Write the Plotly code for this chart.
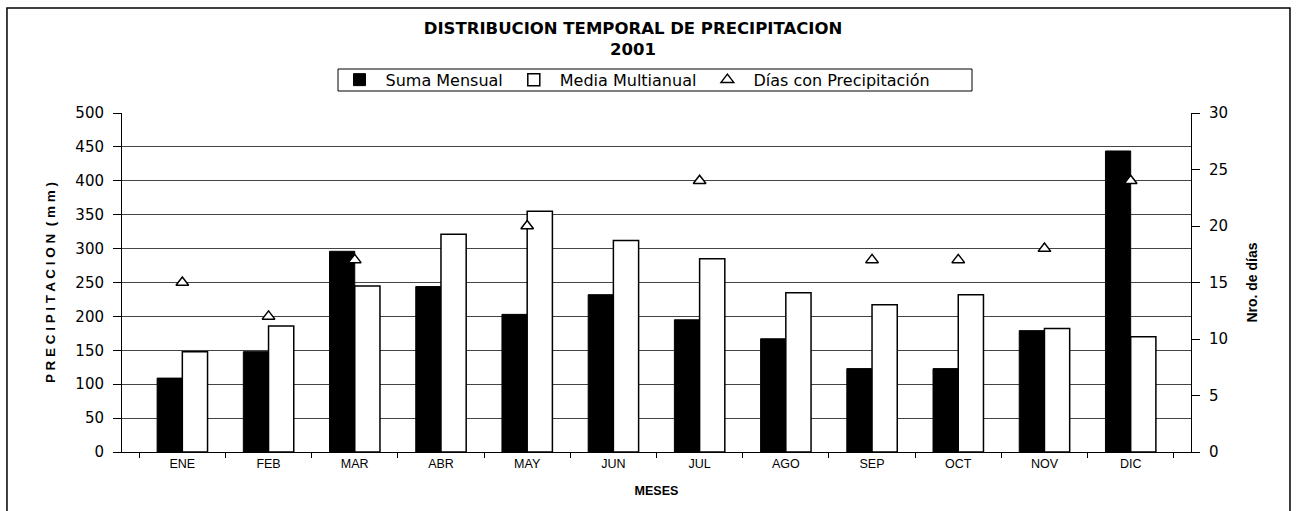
import plotly.graph_objects as go

meses = ["ENE", "FEB", "MAR", "ABR", "MAY", "JUN", "JUL", "AGO", "SEP", "OCT", "NOV", "DIC"]
suma_mensual = [109, 148, 296, 244, 203, 232, 195, 167, 123, 123, 179, 444]
media_multianual = [148, 186, 245, 321, 355, 312, 285, 235, 217, 232, 182, 170]
dias_precip = [15, 12, 17, None, 20, None, 24, None, 17, 17, 18, 24]

FONT = "Liberation Sans, Arial, sans-serif"
WIDE = "DejaVu Sans, Verdana, sans-serif"

fig = go.Figure()
fig.add_trace(go.Bar(
    x=meses, y=suma_mensual, name="Suma Mensual",
    marker=dict(color="black", line=dict(color="black", width=1)),
))
fig.add_trace(go.Bar(
    x=meses, y=media_multianual, name="Media Multianual",
    marker=dict(color="white", line=dict(color="black", width=1.5)),
))
fig.add_trace(go.Scatter(
    x=meses, y=dias_precip, name="Días con Precipitación", yaxis="y2",
    mode="markers",
    marker=dict(symbol="triangle-up", size=11, color="white",
                line=dict(color="black", width=1.5)),
))

fig.update_layout(
    width=1298, height=511,
    margin=dict(l=122, r=107, t=113, b=59),
    paper_bgcolor="white", plot_bgcolor="white",
    font=dict(family=FONT, size=12, color="black"),
    barmode="group", bargap=0.415, bargroupgap=0,
    title=dict(text="<b>DISTRIBUCION TEMPORAL DE PRECIPITACION<br>2001</b>",
               x=633 / 1298, xref="container", xanchor="center",
               y=1 - 34 / 511, yref="container", yanchor="top",
               font=dict(family=WIDE, size=16.5, color="black")),
    legend=dict(orientation="h", x=0.5 - 22 / 1069, xanchor="center", y=1.048, yanchor="bottom",
                borderwidth=0, bgcolor="rgba(0,0,0,0)",
                font=dict(family=WIDE, size=16), itemwidth=42,
                tracegroupgap=0),
    showlegend=True,
    xaxis=dict(
        type="category", showline=True, linecolor="black", linewidth=1,
        ticks="outside", ticklen=5, tickcolor="black", tickson="boundaries",
        showgrid=False, tickfont=dict(family=FONT, size=12.5),
        title=dict(text="<b>MESES</b>", font=dict(family=FONT, size=12.5), standoff=16),
    ),
    yaxis=dict(
        range=[0, 500], dtick=50, showline=True, linecolor="black", linewidth=1,
        ticks="outside", ticklen=8, tickcolor="black", ticklabelstandoff=6,
        showgrid=True, gridcolor="#444", gridwidth=1, zeroline=False,
        tickfont=dict(family=WIDE, size=15),
        title=dict(text="<b>P R E C I P I T A C I O N  ( m m )</b>",
                   font=dict(family=FONT, size=13.5), standoff=16),
    ),
    yaxis2=dict(
        range=[0, 30], dtick=5, overlaying="y", side="right",
        showline=True, linecolor="black", linewidth=1,
        ticks="outside", ticklen=8, tickcolor="black", ticklabelstandoff=6,
        showgrid=False, zeroline=False, tickfont=dict(family=WIDE, size=15),
        title=dict(text="<b>Nro. de días</b>",
                   font=dict(family="Liberation Sans Narrow, Arial Narrow, " + FONT, size=14),
                   standoff=20),
    ),
)

# outer border
fig.add_shape(type="rect", xref="paper", yref="paper",
              x0=-0.1076, x1=1.0926, y0=-0.177, y1=1.3097,
              line=dict(color="black", width=1.5), fillcolor="rgba(0,0,0,0)", layer="below")
# legend frame
fig.add_shape(type="rect", xref="paper", yref="paper",
              x0=(338 - 122) / 1069, x1=(972 - 122) / 1069,
              y0=(452 - 91) / 339, y1=(452 - 69) / 339,
              line=dict(color="black", width=1), fillcolor="rgba(0,0,0,0)", layer="below")

fig.write_html("out.html", config={"displayModeBar": False},
               post_script="document.body.style.margin='0';")
